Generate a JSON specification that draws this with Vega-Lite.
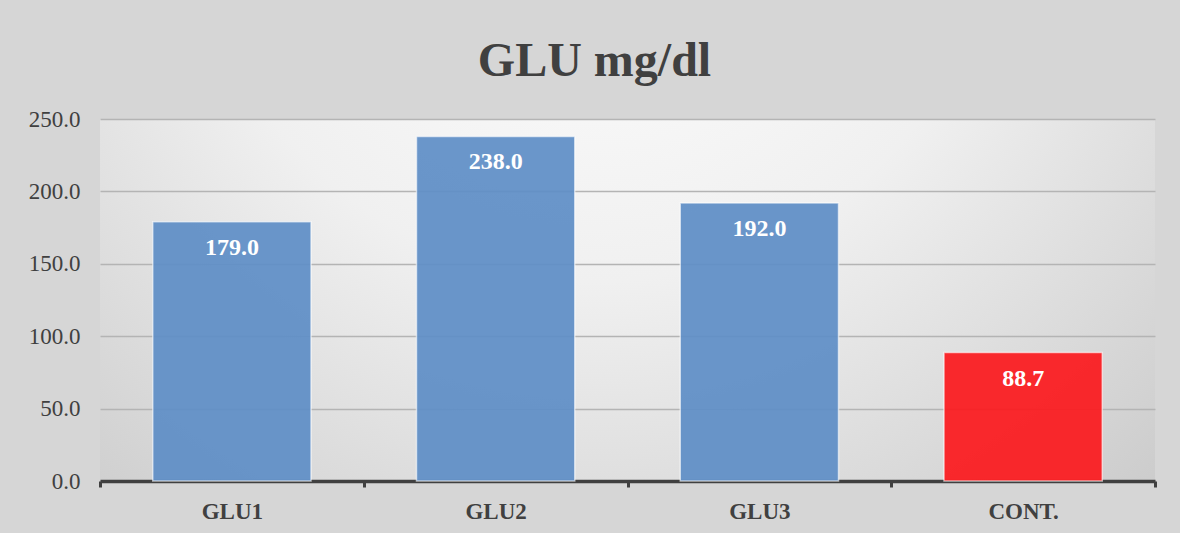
{
  "$schema": "https://vega.github.io/schema/vega-lite/v6.json",
  "width": 1055,
  "height": 362,
  "autosize": {"type": "none"},
  "padding": {"left": 100, "top": 119, "right": 25, "bottom": 52},
  "background": "#d6d6d6",
  "title": {
    "text": "GLU mg/dl",
    "font": "Liberation Serif",
    "fontSize": 48,
    "fontWeight": "bold",
    "color": "#404040",
    "anchor": "middle",
    "dx": -33,
    "offset": 22
  },
  "data": {
    "values": [
      {"label": "GLU1", "value": 179.0, "group": "sample"},
      {"label": "GLU2", "value": 238.0, "group": "sample"},
      {"label": "GLU3", "value": 192.0, "group": "sample"},
      {"label": "CONT.", "value": 88.7, "group": "control"}
    ]
  },
  "encoding": {
    "x": {
      "field": "label",
      "type": "nominal",
      "sort": null,
      "scale": {"paddingInner": 0, "paddingOuter": 0},
      "axis": {
        "title": null,
        "labelAngle": 0,
        "domainColor": "#404040",
        "domainWidth": 3.5,
        "tickBand": "extent",
        "tickColor": "#404040",
        "tickWidth": 3,
        "tickSize": 6,
        "labelPadding": 13,
        "labelFont": "Liberation Serif",
        "labelFontSize": 23,
        "labelFontWeight": "bold",
        "labelColor": "#404040"
      }
    },
    "y": {
      "field": "value",
      "type": "quantitative",
      "scale": {"domain": [0, 250]},
      "axis": {
        "title": null,
        "values": [0, 50, 100, 150, 200, 250],
        "format": ".1f",
        "domain": false,
        "ticks": false,
        "labelPadding": 20,
        "labelFont": "Liberation Serif",
        "labelFontSize": 23,
        "labelColor": "#404040",
        "gridColor": "#b4b4b4",
        "gridWidth": 1.3
      }
    }
  },
  "layer": [
    {
      "mark": {
        "type": "bar",
        "width": {"band": 0.6},
        "stroke": "#ffffff",
        "strokeOpacity": 0.6,
        "strokeWidth": 1.5,
        "fillOpacity": 0.93
      },
      "encoding": {
        "color": {
          "field": "group",
          "type": "nominal",
          "scale": {"domain": ["sample", "control"], "range": ["#5f8ec6", "#fb1a1e"]},
          "legend": null
        }
      }
    },
    {
      "mark": {
        "type": "text",
        "dy": 26,
        "baseline": "middle",
        "align": "center",
        "font": "Liberation Serif",
        "fontSize": 24,
        "fontWeight": "bold",
        "fill": "#ffffff"
      },
      "encoding": {
        "text": {"field": "value", "type": "quantitative", "format": ".1f"}
      }
    }
  ],
  "config": {
    "view": {
      "stroke": null,
      "fill": {
        "gradient": "radial",
        "x1": 0.47, "y1": 0.1, "r1": 0,
        "x2": 0.47, "y2": 0.1, "r2": 0.85,
        "stops": [
          {"offset": 0, "color": "#ffffff"},
          {"offset": 0.45, "color": "#f0f0f0"},
          {"offset": 1, "color": "#c6c6c6"}
        ]
      }
    }
  }
}
